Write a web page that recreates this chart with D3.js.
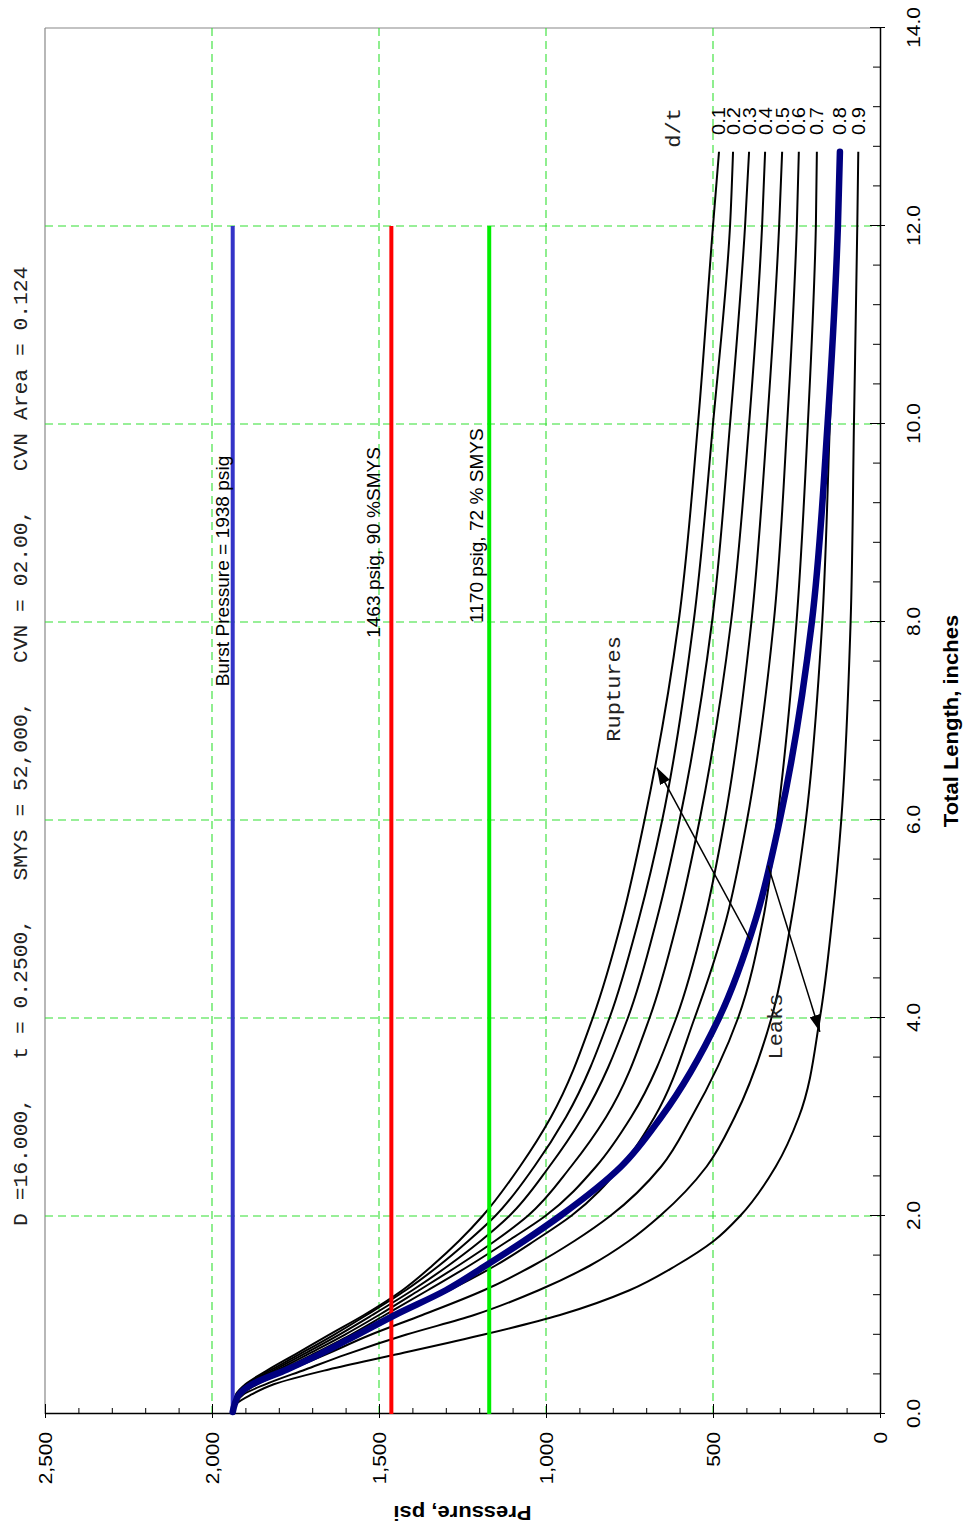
<!DOCTYPE html>
<html>
<head>
<meta charset="utf-8">
<script src="https://cdn.jsdelivr.net/npm/d3@7"></script>
<style>
  body { margin: 0; background: #fff; }
  svg { display: block; }
</style>
</head>
<body>
<div id="chart"></div>
<script>
// total flaw length, inches (sample points shared by every curve)
var lengths = [0.02, 0.1, 0.2, 0.3, 0.45, 0.6, 0.8, 1.0, 1.25, 1.5, 1.75, 2.0, 2.5, 3.0, 4.0, 5.0, 6.0, 8.0, 10.0, 12.0, 12.75];

// failure pressure, psi, one list per d/t
var dt01 = [1938, 1936, 1928, 1900, 1830, 1752, 1650, 1545, 1430, 1340, 1260, 1190, 1078, 985, 860, 772, 705, 603, 545, 500, 482];
var dt02 = [1938, 1935, 1926, 1896, 1820, 1740, 1635, 1537, 1420, 1320, 1232, 1152, 1035, 940, 810, 722, 652, 558, 500, 449, 440];
var dt03 = [1938, 1934, 1924, 1892, 1810, 1728, 1620, 1520, 1400, 1292, 1195, 1110, 990, 890, 755, 668, 600, 503, 449, 404, 392];
var dt04 = [1938, 1933, 1922, 1888, 1800, 1715, 1603, 1500, 1380, 1262, 1152, 1055, 925, 820, 690, 605, 540, 446, 392, 353, 344];
var dt05 = [1938, 1933, 1920, 1884, 1790, 1700, 1585, 1482, 1354, 1229, 1113, 1002, 850, 745, 610, 525, 465, 385, 338, 302, 293];
var dt06 = [1938, 1932, 1916, 1876, 1775, 1675, 1555, 1445, 1290, 1151, 1034, 925, 775, 675, 555, 460, 398, 318, 278, 249, 243];
var dt07 = [1938, 1931, 1912, 1865, 1765, 1660, 1525, 1370, 1186, 1038, 914, 808, 655, 564, 425, 350, 308, 250, 216, 192, 189];
var dt08 = [1938, 1930, 1905, 1840, 1720, 1600, 1420, 1215, 1022, 868, 751, 659, 519, 435, 325, 265, 222, 173, 150, 127, 120];
var dt09 = [1938, 1928, 1880, 1815, 1650, 1450, 1189, 958, 750, 610, 497, 419, 312, 243, 180, 143, 116, 88, 78, 68, 65];
var dtNames = ["0.1", "0.2", "0.3", "0.4", "0.5", "0.6", "0.7", "0.8", "0.9"];

// leak / rupture boundary (thick blue)
var boundary = [1938, 1932, 1918, 1880, 1775, 1680, 1565, 1452, 1300, 1180, 1065, 958, 775, 655, 482, 372, 300, 204, 157, 126, 120];

// reference pressures, psi
var refPressures = [1938, 1463, 1170];
var refLabels = ["Burst Pressure = 1938 psig", "1463 psig, 90 %SMYS", "1170 psig, 72 % SMYS"];
var refEnd = 12.0;

var pressureTicks = [0, 500, 1000, 1500, 2000, 2500];
var lengthTicks = [0, 2, 4, 6, 8, 10, 12, 14];
var gridPressures = [500, 1000, 1500, 2000];
var gridLengths = [2, 4, 6, 8, 10, 12];

var header = "D =16.000,   t = 0.2500,   SMYS = 52,000,   CVN = 02.00,   CVN Area = 0.124";

var sans = "'Liberation Sans', Arial, sans-serif";
var mono = "'Liberation Mono', 'Courier New', monospace";

// plot is drawn in its normal orientation, then turned a quarter to the left
var W = 1386, H = 835;

var svg = d3.select("#chart").append("svg")
  .attr("width", 965)
  .attr("height", 1529);

svg.append("rect").attr("width", 965).attr("height", 1529).attr("fill", "#fff");

var defs = svg.append("defs");
defs.append("marker")
  .attr("id", "arrow")
  .attr("viewBox", "0 0 10 10")
  .attr("refX", 10)
  .attr("refY", 5)
  .attr("markerWidth", 17)
  .attr("markerHeight", 11)
  .attr("markerUnits", "userSpaceOnUse")
  .attr("preserveAspectRatio", "none")
  .attr("orient", "auto")
  .append("path")
  .attr("d", "M0,0L10,5L0,10Z")
  .attr("fill", "#000");

var g = svg.append("g")
  .attr("transform", "translate(45,1414) rotate(-90)");

var x = d3.scaleLinear().domain([0, 14]).range([0, W]);
var y = d3.scaleLinear().domain([0, 2500]).range([H, 0]);

// stretch text a bit along its run, like the source picture
function stretch(sel, k) {
  sel.each(function () {
    var w = this.getComputedTextLength();
    d3.select(this).attr("textLength", w * k).attr("lengthAdjust", "spacingAndGlyphs");
  });
}

// frame
g.append("line").attr("x1", 0).attr("x2", W).attr("y1", 0).attr("y2", 0)
  .attr("stroke", "#888").attr("stroke-width", 1.2);
g.append("line").attr("x1", W).attr("x2", W).attr("y1", 0).attr("y2", H)
  .attr("stroke", "#888").attr("stroke-width", 1.2);

// grid
g.selectAll(".gridP").data(gridPressures).enter().append("line")
  .attr("class", "gridP")
  .attr("x1", 0).attr("x2", W)
  .attr("y1", function (d) { return y(d); })
  .attr("y2", function (d) { return y(d); });
g.selectAll(".gridL").data(gridLengths).enter().append("line")
  .attr("class", "gridL")
  .attr("x1", function (d) { return x(d); })
  .attr("x2", function (d) { return x(d); })
  .attr("y1", 0).attr("y2", H);
g.selectAll(".gridP, .gridL")
  .attr("stroke", "#33e033")
  .attr("stroke-width", 1.1)
  .attr("stroke-dasharray", "8,5");

// axes
var yMinor = g.append("g")
  .call(d3.axisLeft(y).tickValues(d3.range(0, 2501, 100)).tickSize(-6).tickFormat(""));
yMinor.select(".domain").remove();

var yAxis = g.append("g")
  .call(d3.axisLeft(y).tickValues(pressureTicks).tickSizeInner(-10).tickSizeOuter(0)
    .tickPadding(18).tickFormat(d3.format(",")));
yAxis.selectAll(".tick line").attr("x1", -4);

var xMinor = g.append("g")
  .attr("transform", "translate(0," + H + ")")
  .call(d3.axisBottom(x).tickValues(d3.range(0, 14.001, 0.4)).tickSize(-7).tickFormat(""));
xMinor.select(".domain").remove();

var xAxis = g.append("g")
  .attr("transform", "translate(0," + H + ")")
  .call(d3.axisBottom(x).tickValues(lengthTicks).tickSizeInner(-10).tickSizeOuter(0)
    .tickPadding(27).tickFormat(d3.format(".1f")));
xAxis.selectAll(".tick line").attr("y1", 5);

g.selectAll(".domain").attr("stroke", "#000").attr("stroke-width", 1.5);
g.selectAll(".tick line").attr("stroke", "#000").attr("stroke-width", 1);

var tickText = g.selectAll(".tick text")
  .attr("fill", "#000")
  .style("font-family", sans)
  .style("font-size", "19px");
stretch(tickText, 1.1);

// axis titles
var yTitle = g.append("text")
  .attr("transform", "translate(-92," + (H / 2) + ") rotate(-90)")
  .attr("text-anchor", "middle")
  .style("font-family", sans)
  .style("font-size", "20px")
  .style("font-weight", "bold")
  .text("Pressure, psi");
stretch(yTitle, 1.1);

var xTitle = g.append("text")
  .attr("x", W / 2)
  .attr("y", H + 78)
  .attr("text-anchor", "middle")
  .style("font-family", sans)
  .style("font-size", "20px")
  .style("font-weight", "bold")
  .text("Total Length, inches");
stretch(xTitle, 1.1);

// header line
var head = g.append("text")
  .attr("x", x(1.9))
  .attr("y", -18)
  .attr("fill", "#222")
  .style("font-family", mono)
  .style("font-size", "21px")
  .style("white-space", "pre")
  .text(header);
stretch(head, 1.015);

// d/t curves
var line = d3.line()
  .x(function (d, i) { return x(lengths[i]); })
  .y(function (d) { return y(d); })
  .curve(d3.curveMonotoneX);

var curves = [dt01, dt02, dt03, dt04, dt05, dt06, dt07, dt08, dt09];

g.selectAll(".dt").data(curves).enter().append("path")
  .attr("class", "dt")
  .attr("d", line)
  .attr("fill", "none")
  .attr("stroke", "#000")
  .attr("stroke-width", 2);

// reference pressures
var refColors = ["#3434c8", "#ff0000", "#00ee00"];
g.selectAll(".ref").data(refPressures).enter().append("line")
  .attr("class", "ref")
  .attr("x1", x(0)).attr("x2", x(refEnd))
  .attr("y1", function (d) { return y(d); })
  .attr("y2", function (d) { return y(d); })
  .attr("stroke", function (d, i) { return refColors[i]; })
  .attr("stroke-width", 4);

var refStart = [7.35, 7.84, 7.99];
var refLift = [4, 11, 6];
var refText = g.selectAll(".refText").data(refPressures).enter().append("text")
  .attr("class", "refText")
  .attr("x", function (d, i) { return x(refStart[i]); })
  .attr("y", function (d, i) { return y(d) - refLift[i]; })
  .style("font-family", sans)
  .style("font-size", "17.5px")
  .text(function (d, i) { return refLabels[i]; });
stretch(refText, 1.09);

// leak / rupture boundary
g.append("path")
  .datum(boundary)
  .attr("d", line)
  .attr("fill", "none")
  .attr("stroke", "#000080")
  .attr("stroke-width", 6.5)
  .attr("stroke-linecap", "round");

// d/t labels at the curve ends
var dtText = g.selectAll(".dtLabel").data(curves).enter().append("text")
  .attr("class", "dtLabel")
  .attr("x", x(12.92))
  .attr("y", function (d) { return y(d[d.length - 1]); })
  .attr("dy", "0.35em")
  .style("font-family", sans)
  .style("font-size", "18.5px")
  .text(function (d, i) { return dtNames[i]; });
stretch(dtText, 1.08);

// annotations
var notes = g.selectAll(".note")
  .data([["d/t", 12.79, 599], ["Ruptures", 6.79, 778], ["Leaks", 3.58, 293]])
  .enter().append("text")
  .attr("class", "note")
  .attr("x", function (d) { return x(d[1]); })
  .attr("y", function (d) { return y(d[2]); })
  .attr("fill", "#222")
  .style("font-family", mono)
  .style("font-size", "21px")
  .text(function (d) { return d[0]; });
stretch(notes, 1.05);

g.append("line")
  .attr("x1", x(4.79)).attr("y1", y(389))
  .attr("x2", x(6.53)).attr("y2", y(668))
  .attr("stroke", "#000").attr("stroke-width", 1.5)
  .attr("marker-end", "url(#arrow)");
g.append("line")
  .attr("x1", x(5.54)).attr("y1", y(335))
  .attr("x2", x(3.86)).attr("y2", y(180))
  .attr("stroke", "#000").attr("stroke-width", 1.5)
  .attr("marker-end", "url(#arrow)");
</script>
</body>
</html>
